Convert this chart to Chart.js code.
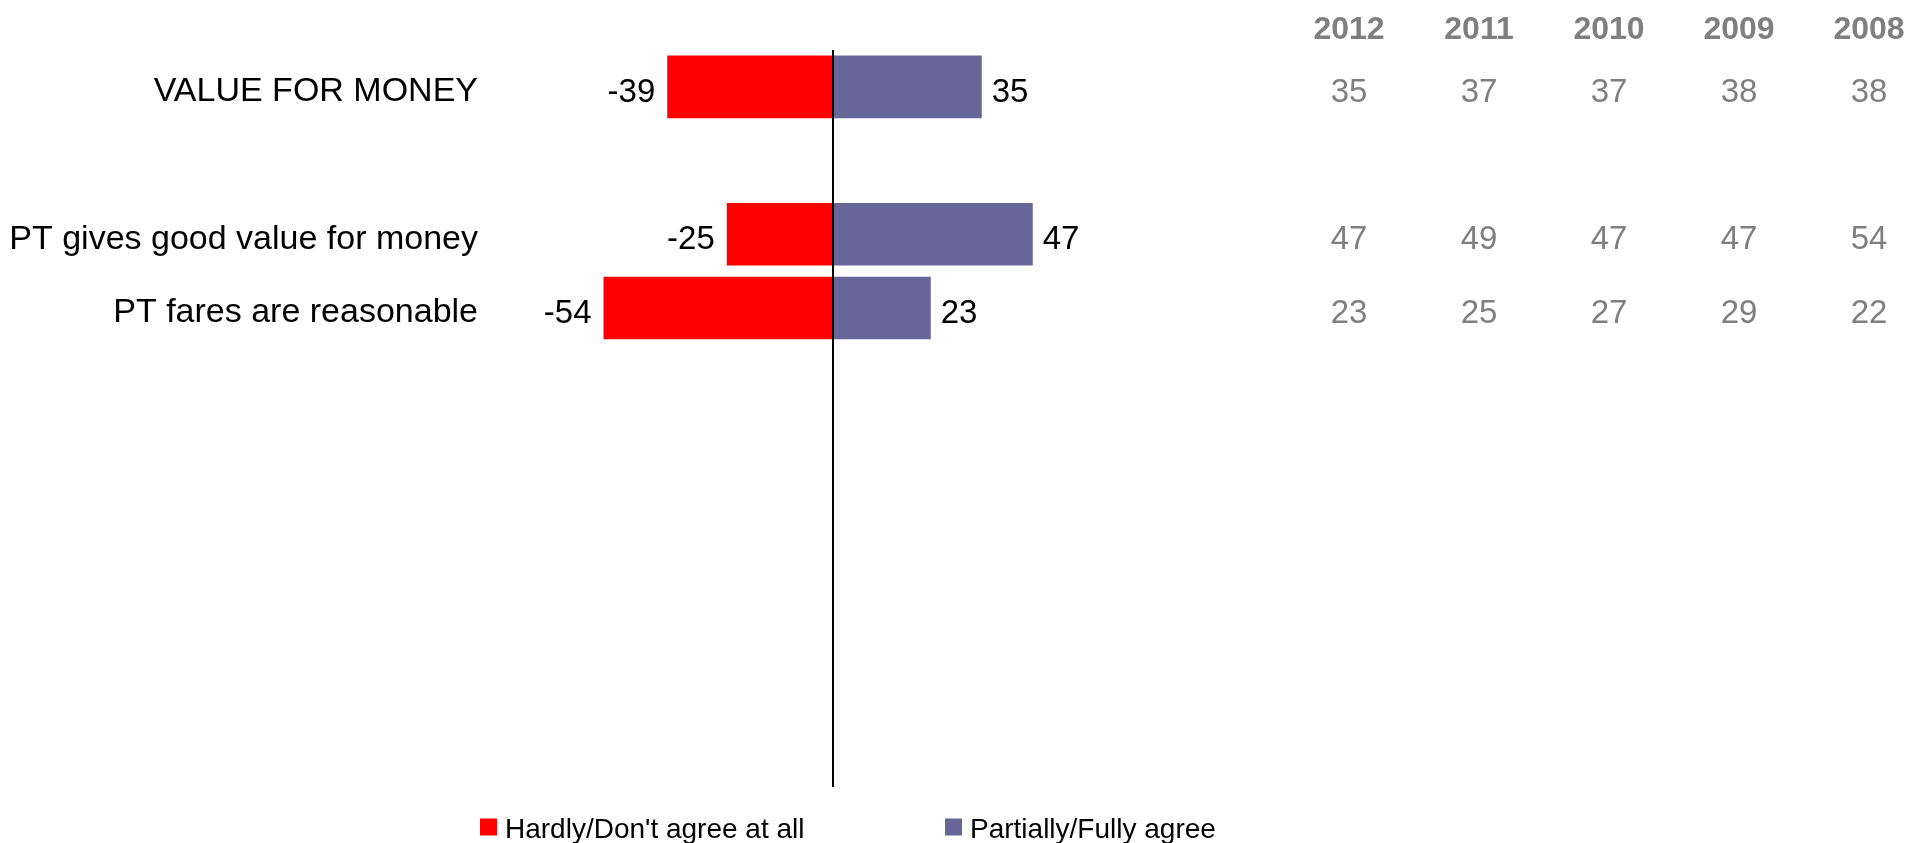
<!DOCTYPE html>
<html>
<head>
<meta charset="utf-8">
<title>Value for money</title>
<script src="https://cdn.jsdelivr.net/npm/chart.js@4/dist/chart.umd.min.js"></script>
<style>
    html, body { margin: 0; padding: 0; background: #fff; }
    #wrap { position: relative; width: 1924px; height: 843px; }
</style>
</head>
<body>
<div id="wrap"><canvas id="valueChart"></canvas></div>
<script>
// --- data ---
const categories = [
    'VALUE FOR MONEY',
    '',
    'PT gives good value for money',
    'PT fares are reasonable',
    '', '', '', '', '', ''
];
const disagree = [-39, null, -25, -54];
const agree = [35, null, 47, 23];

// yearly "agree" history, newest first
const years = ['2012', '2011', '2010', '2009', '2008'];
const valueForMoneyHistory = [35, 37, 37, 38, 38];
const goodValueHistory = [47, 49, 47, 47, 54];
const faresHistory = [23, 25, 27, 29, 22];
const historyRows = [
    { cat: 0, values: valueForMoneyHistory },
    { cat: 2, values: goodValueHistory },
    { cat: 3, values: faresHistory }
];

const FONT = "'Liberation Sans', Arial, sans-serif";
Chart.defaults.font.family = FONT;

// text sits a little below the bar centre
const TEXT_SHIFT = 6;

// --- value labels next to each bar end ---
const barLabels = {
    id: 'barLabels',
    afterDatasetsDraw(chart) {
        const { ctx } = chart;
        ctx.save();
        ctx.font = `33px ${FONT}`;
        ctx.fillStyle = '#000';
        ctx.textBaseline = 'middle';
        chart.data.datasets.forEach((ds, di) => {
            const meta = chart.getDatasetMeta(di);
            meta.data.forEach((bar, i) => {
                const v = ds.data[i];
                if (v === null || v === undefined) return;
                if (v < 0) {
                    ctx.textAlign = 'right';
                    ctx.fillText(String(v), bar.x - 12, bar.y + TEXT_SHIFT);
                } else {
                    ctx.textAlign = 'left';
                    ctx.fillText(String(v), bar.x + 10, bar.y + TEXT_SHIFT);
                }
            });
        });
        ctx.restore();
    }
};

// --- history table on the right, rows follow the category scale ---
const historyTable = {
    id: 'historyTable',
    afterDraw(chart) {
        const { ctx } = chart;
        const yScale = chart.scales.y;
        const colX0 = 1349, colStep = 130;
        ctx.save();
        ctx.textAlign = 'center';
        ctx.textBaseline = 'middle';
        ctx.fillStyle = '#7f7f7f';
        ctx.font = `bold 32px ${FONT}`;
        years.forEach((yr, c) => ctx.fillText(yr, colX0 + c * colStep, 30));
        ctx.font = `33px ${FONT}`;
        historyRows.forEach(row => {
            const y = yScale.getPixelForValue(row.cat) + TEXT_SHIFT;
            row.values.forEach((v, c) => ctx.fillText(String(v), colX0 + c * colStep, y));
        });
        ctx.restore();
    }
};

// --- legend along the bottom ---
const bottomLegend = {
    id: 'bottomLegend',
    afterDraw(chart) {
        const { ctx } = chart;
        const startX = [480, 945];
        const y = 827, box = 17;
        ctx.save();
        ctx.font = `28px ${FONT}`;
        ctx.textAlign = 'left';
        ctx.textBaseline = 'middle';
        chart.data.datasets.forEach((ds, i) => {
            const x = startX[i];
            ctx.fillStyle = ds.backgroundColor;
            ctx.fillRect(x, y - box / 2, box, box);
            ctx.fillStyle = '#000';
            ctx.fillText(ds.label, x + box + 8, y + 3);
        });
        ctx.restore();
    }
};

new Chart(document.getElementById('valueChart'), {
    type: 'bar',
    data: {
        labels: categories,
        datasets: [
            {
                label: "Hardly/Don't agree at all",
                data: disagree,
                backgroundColor: '#ff0000',
                barPercentage: 0.85,
                categoryPercentage: 1
            },
            {
                label: 'Partially/Fully agree',
                data: agree,
                backgroundColor: '#666699',
                barPercentage: 0.85,
                categoryPercentage: 1
            }
        ]
    },
    options: {
        indexAxis: 'y',
        responsive: true,
        maintainAspectRatio: false,
        animation: false,
        layout: {
            padding: { top: 50, bottom: 56, left: 0, right: 666 }
        },
        plugins: {
            legend: { display: false },
            tooltip: { enabled: false }
        },
        scales: {
            x: {
                stacked: true,
                min: -80,
                max: 100,
                ticks: { display: false, stepSize: 20 },
                border: { display: false },
                grid: {
                    drawTicks: false,
                    lineWidth: 2,
                    color: (c) => (c.tick && c.tick.value === 0) ? '#000' : 'rgba(0,0,0,0)'
                }
            },
            y: {
                stacked: true,
                grid: { display: false },
                border: { display: false },
                ticks: {
                    autoSkip: false,
                    color: '#000',
                    padding: 7,
                    labelOffset: 5,
                    font: { size: 34 }
                },
                afterFit(scale) {
                    scale.width = 493;
                }
            }
        }
    },
    plugins: [barLabels, historyTable, bottomLegend]
});
</script>
</body>
</html>
